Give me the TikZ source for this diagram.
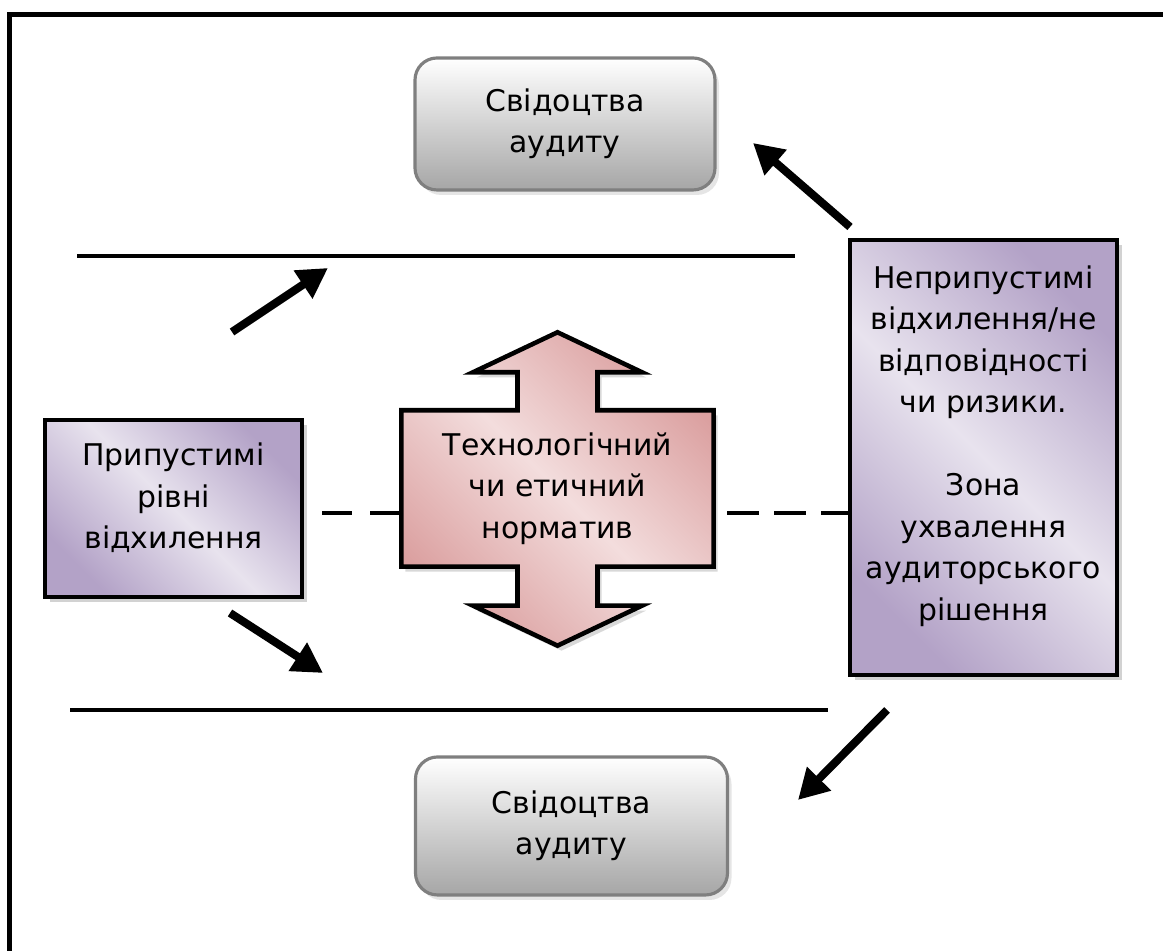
\documentclass[tikz,border=0pt]{standalone}
\usepackage{fontspec}
\setmainfont{DejaVu Sans}
\definecolor{BoxGrey}{HTML}{A6A6A6}
\definecolor{EdgeGrey}{HTML}{7F7F7F}
\definecolor{LavDark}{HTML}{B3A2C7}
\definecolor{LavLight}{HTML}{E8E3EE}
\definecolor{RoseDark}{HTML}{DBA0A0}
\definecolor{RoseLight}{HTML}{F3DDDD}
\usetikzlibrary{arrows.meta, positioning, calc, shadows}
\pgfdeclarelayer{background}
\pgfsetlayers{background,main}

\begin{document}
\begin{tikzpicture}[>={Triangle[length=0.3cm, width=0.32cm]},
  every node/.style={font=\fontsize{8.5}{11.8}\selectfont, align=center},
  evidbox/.style={draw=EdgeGrey, line width=0.9pt, rounded corners=0.22cm,
    top color=white, bottom color=BoxGrey,
    drop shadow={shadow xshift=0.04cm, shadow yshift=-0.05cm, fill=gray!40}},
  zonebox/.style={draw=black, line width=1.3pt,
    top color=LavDark, bottom color=LavDark, middle color=LavLight, shading angle=-45,
    drop shadow={shadow xshift=0.05cm, shadow yshift=-0.05cm, fill=gray!70}},
  bigarrow/.style={->, line width=2.3pt}]
  \useasboundingbox (0,0) rectangle (11.63,9.51);
  \clip (0,0) rectangle (11.63,9.51);
  % Outer frame (cut by the page edge on the right and bottom)
  \draw[line width=1.45pt] (0.095,9.365) rectangle (11.9,-0.3);
  % Evidence boxes
  \node[evidbox, minimum width=3.0cm, minimum height=1.32cm] (evtop) at (5.65,8.27)
    {Свідоцтва\\аудиту};
  \node[evidbox, minimum width=3.12cm, minimum height=1.38cm] (evbot) at (5.715,1.25)
    {Свідоцтва\\аудиту};
  % Boundary lines
  \draw[line width=1.2pt] (0.77,6.95) -- (7.95,6.95);
  \draw[line width=1.2pt] (0.70,2.41) -- (8.28,2.41);
  % Acceptable deviations
  \node[zonebox, minimum width=2.57cm, minimum height=1.77cm, text depth=0.25cm]
    (accept) at (1.735,4.425) {Припустимі\\рівні\\відхилення};
  % Unacceptable deviations / decision zone
  \node[zonebox, minimum width=2.67cm, minimum height=4.35cm, text depth=0.29cm]
    (reject) at (9.835,4.935)
    {Неприпустимі\\відхилення/не\\відповідності\\чи ризики.\\[11.8pt]Зона\\ухвалення\\аудиторського\\рішення};
  % Standard with up/down arrow
  \node[minimum width=3.11cm, minimum height=1.55cm] (norm) at (5.575,4.625)
    {Технологічний\\чи етичний\\норматив};
  \begin{pgfonlayer}{background}
    \draw[line width=1.3pt, line join=miter, top color=RoseDark, bottom color=RoseDark,
      middle color=RoseLight, shading angle=-45,
      drop shadow={shadow xshift=0.04cm, shadow yshift=-0.05cm, fill=gray!60}]
      ($(norm.north)+(-0.40,0)$) -- ++(0,0.38) -- ($(norm.north)+(-0.845,0.38)$)
      -- ($(norm.north)+(0,0.78)$) -- ($(norm.north)+(0.845,0.38)$)
      -- ($(norm.north)+(0.40,0.38)$) -- ($(norm.north)+(0.40,0)$)
      -- (norm.north east) -- (norm.south east)
      -- ($(norm.south)+(0.40,0)$) -- ++(0,-0.39) -- ($(norm.south)+(0.845,-0.39)$)
      -- ($(norm.south)+(0,-0.79)$) -- ($(norm.south)+(-0.845,-0.39)$)
      -- ($(norm.south)+(-0.40,-0.39)$) -- ($(norm.south)+(-0.40,0)$)
      -- (norm.south west) -- (norm.north west) -- cycle;
  \end{pgfonlayer}
  % Dashed links
  \coordinate (dl) at (3.22,4.38);
  \coordinate (dr) at (7.27,4.38);
  \draw[line width=1.4pt, dash pattern=on 0.30cm off 0.18cm] (dl) -- (norm.west |- dl);
  \draw[line width=1.4pt, dash pattern=on 0.32cm off 0.15cm] (dr) -- (reject.west |- dr);
  % Arrows
  \coordinate (a1s) at (2.32,6.19);  \coordinate (a1e) at (3.28,6.83);
  \coordinate (a2s) at (2.30,3.38);  \coordinate (a2e) at (3.23,2.78);
  \coordinate (a3s) at (8.50,7.24);  \coordinate (a3e) at (7.53,8.08);
  \coordinate (a4s) at (8.87,2.41);  \coordinate (a4e) at (7.98,1.51);
  \draw[bigarrow] (a1s) -- (a1e);
  \draw[bigarrow] (a2s) -- (a2e);
  \draw[bigarrow] (a3s) -- (a3e);
  \draw[bigarrow] (a4s) -- (a4e);
\end{tikzpicture}
\end{document}
